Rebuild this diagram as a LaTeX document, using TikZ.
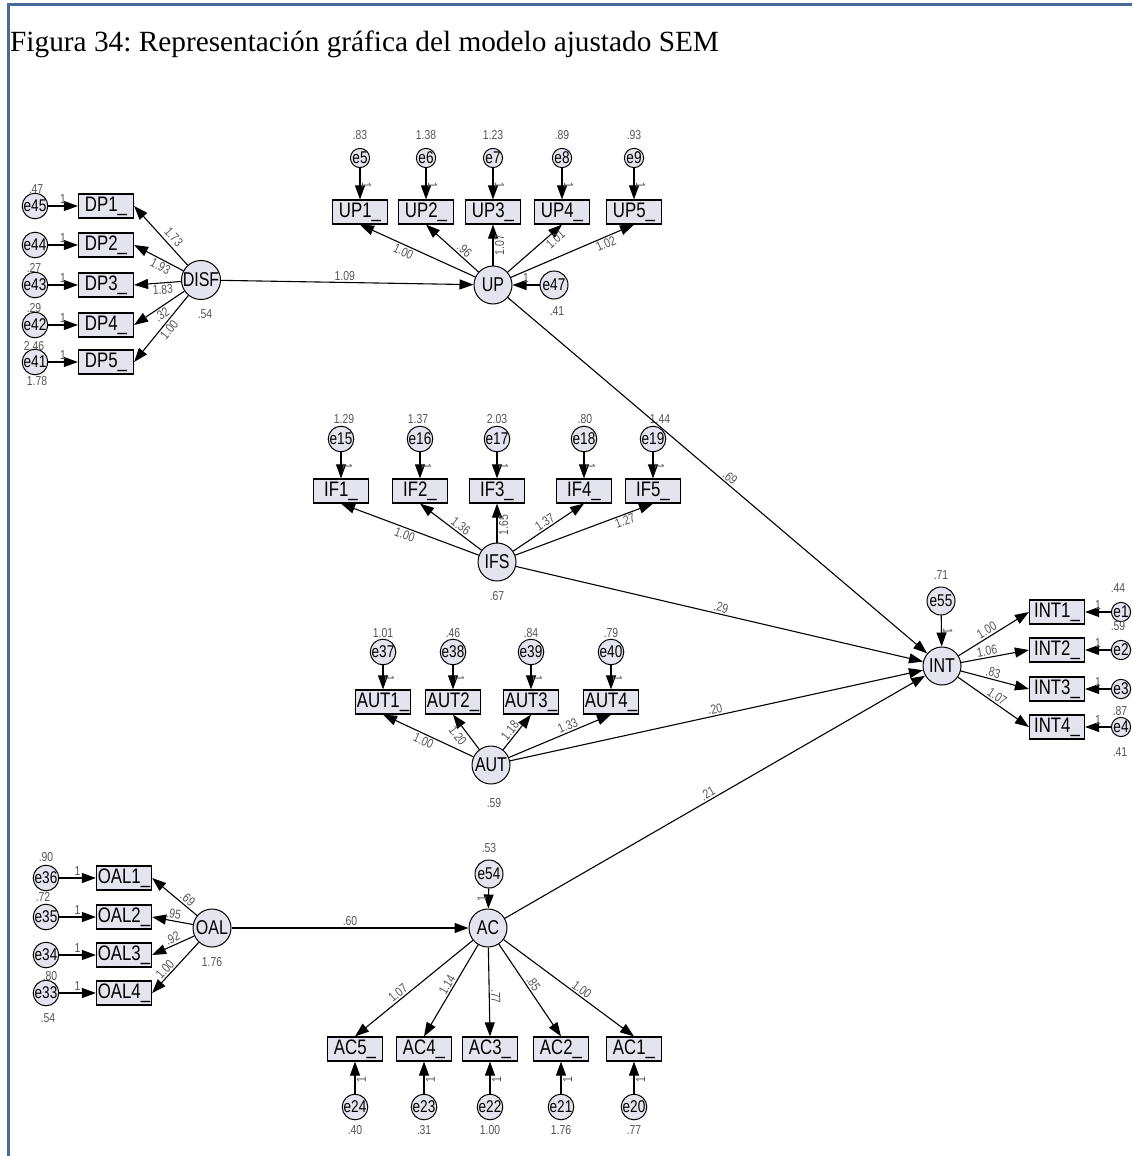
\documentclass[tikz,border=0pt]{standalone}
\usepackage{fontspec}
\setmainfont{Liberation Serif}
\newfontfamily\arialt[FakeStretch=0.8]{Liberation Sans}
\usetikzlibrary{arrows.meta,calc}
\definecolor{vfill}{HTML}{E4E4EE}
\definecolor{framec}{HTML}{4A6A9A}
\definecolor{numc}{HTML}{555555}
\newcommand\bxf{\arialt\fontsize{21}{22}\selectfont}
\newcommand\lxf{\arialt\fontsize{20}{21}\selectfont}
\newcommand\exf{\arialt\fontsize{17}{19}\selectfont}
\newcommand\nmf{\arialt\fontsize{13}{14}\selectfont}
\frenchspacing
\begin{document}
\begin{tikzpicture}[x=1pt,y=-1pt,
  obs/.style={draw=black, line width=1.2pt, fill=vfill, rectangle, minimum width=55pt, minimum height=24pt, inner sep=0pt, font=\bxf},
  lat/.style={draw=black, line width=1pt, fill=vfill, circle, minimum size=38pt, inner sep=0pt, font=\lxf},
  err/.style={draw=black, line width=1pt, fill=vfill, circle, minimum size=17pt, inner sep=0pt, font=\exf},
  errb/.style={err, minimum size=28pt},
  num/.style={font=\nmf, text=numc, inner sep=1.5pt},
  arr/.style={draw=black, line width=1.1pt, -{Triangle[length=14pt,width=10pt]}},
]
\useasboundingbox (0,0) rectangle (1132,1156);
\fill[white] (0,0) rectangle (1132,1156);
\draw[framec, line width=3pt] (8,1156) -- (8,5) -- (1132,5);
\node[anchor=base west, inner sep=0pt, font=\fontsize{29.3}{34}\selectfont] (title) at (10,52) {Figura 34: Representación gráfica del modelo ajustado SEM};

% ---------------- DISF ----------------
\node[lat] (DISF) at (201,280) {DISF};
\node[obs] (DP1) at (106,206) {DP1\_};
\node[obs] (DP2) at (106,245) {DP2\_};
\node[obs] (DP3) at (106,285) {DP3\_};
\node[obs] (DP4) at (106,325) {DP4\_};
\node[obs] (DP5) at (106,362) {DP5\_};
\node[err] (e45) at (35,206) {e45};
\node[err] (e44) at (35,245) {e44};
\node[err] (e43) at (35,285) {e43};
\node[err] (e42) at (35,325) {e42};
\node[err] (e41) at (35,362) {e41};
\draw[arr] (e45) -- node[num,above]{1} (DP1);
\draw[arr] (e44) -- node[num,above]{1} (DP2);
\draw[arr] (e43) -- node[num,above]{1} (DP3);
\draw[arr] (e42) -- node[num,above]{1} (DP4);
\draw[arr] (e41) -- node[num,above]{1} (DP5);
\draw[arr] (DISF) -- node[num,sloped,above=2pt,pos=.38]{1.73} (DP1.east);
\draw[arr] (DISF) -- node[num,sloped,below,pos=.4]{1.93} (DP2.east);
\draw[arr] (DISF) -- node[num,sloped,below,pos=.4]{1.83} (DP3.east);
\draw[arr] (DISF) -- node[num,sloped,below,pos=.52]{.32} (DP4.east);
\draw[arr] (DISF) -- node[num,sloped,below,pos=.45]{1.00} (DP5.east);
\node[num] (v45) at (36,189) {.47};
\node[num] (v43) at (34,268) {.27};
\node[num] (v42) at (34,308) {.29};
\node[num] (v41) at (34,346) {2.46};
\node[num] (v41b) at (37,381) {1.78};
\node[num] (vDISF) at (205,314) {.54};

% ---------------- UP ----------------
\node[lat] (UP) at (493,285) {UP};
\node[errb] (e47) at (554,285) {e47};
\node[num] (v47) at (557,311) {.41};
\draw[arr] (e47) -- node[num,above]{1} (UP);
\node[obs] (UP1) at (360,212) {UP1\_};
\node[obs] (UP2) at (426,212) {UP2\_};
\node[obs] (UP3) at (493,212) {UP3\_};
\node[obs] (UP4) at (562,212) {UP4\_};
\node[obs] (UP5) at (634,212) {UP5\_};
\node[err] (e5) at (360,158) {e5};
\node[err] (e6) at (426,158) {e6};
\node[err] (e7) at (493,158) {e7};
\node[err] (e8) at (562,158) {e8};
\node[err] (e9) at (634,158) {e9};
\draw[arr] (e5) -- node[num,sloped,above,pos=.55]{1} (UP1);
\draw[arr] (e6) -- node[num,sloped,above,pos=.55]{1} (UP2);
\draw[arr] (e7) -- node[num,sloped,above,pos=.55]{1} (UP3);
\draw[arr] (e8) -- node[num,sloped,above,pos=.55]{1} (UP4);
\draw[arr] (e9) -- node[num,sloped,above,pos=.55]{1} (UP5);
\node[num] (v5) at (360,135) {.83};
\node[num] (v6) at (426,135) {1.38};
\node[num] (v7) at (493,135) {1.23};
\node[num] (v8) at (562,135) {.89};
\node[num] (v9) at (634,135) {.93};
\draw[arr] (UP) -- node[num,sloped,below,pos=.6]{1.00} (UP1.south);
\draw[arr] (UP) -- node[num,sloped,above,pos=.35]{.96} (UP2.south);
\draw[arr] (UP) -- node[num,sloped,below,pos=.5]{1.07} (UP3.south);
\draw[arr] (UP) -- node[num,sloped,below,pos=.8]{1.01} (UP4.south);
\draw[arr] (UP) -- node[num,sloped,below,pos=.75]{1.02} (UP5.south);

% ---------------- IFS ----------------
\node[lat] (IFS) at (497,562) {IFS};
\node[num] (vIFS) at (497,596) {.67};
\node[obs] (IF1) at (341,491) {IF1\_};
\node[obs] (IF2) at (420,491) {IF2\_};
\node[obs] (IF3) at (497,491) {IF3\_};
\node[obs] (IF4) at (584,491) {IF4\_};
\node[obs] (IF5) at (653,491) {IF5\_};
\node[err] (e15) at (341,439) {e15};
\node[err] (e16) at (420,439) {e16};
\node[err] (e17) at (497,439) {e17};
\node[err] (e18) at (584,439) {e18};
\node[err] (e19) at (653,439) {e19};
\draw[arr] (e15) -- node[num,sloped,above,pos=.55]{1} (IF1);
\draw[arr] (e16) -- node[num,sloped,above,pos=.55]{1} (IF2);
\draw[arr] (e17) -- node[num,sloped,above,pos=.55]{1} (IF3);
\draw[arr] (e18) -- node[num,sloped,above,pos=.55]{1} (IF4);
\draw[arr] (e19) -- node[num,sloped,above,pos=.55]{1} (IF5);
\node[num] (v15) at (344,419) {1.29};
\node[num] (v16) at (418,419) {1.37};
\node[num] (v17) at (497,419) {2.03};
\node[num] (v18) at (585,419) {.80};
\node[num] (v19) at (660,419) {1.44};
\draw[arr] (IFS) -- node[num,sloped,below,pos=.52]{1.00} (IF1.south);
\draw[arr] (IFS) -- node[num,sloped,above,pos=.4]{1.36} (IF2.south);
\draw[arr] (IFS) -- node[num,sloped,below,pos=.45]{1.65} (IF3.south);
\draw[arr] (IFS) -- node[num,sloped,above,pos=.5]{1.37} (IF4.south);
\draw[arr] (IFS) -- node[num,sloped,below,pos=.78]{1.27} (IF5.south);

% ---------------- AUT ----------------
\node[lat] (AUT) at (491,765) {AUT};
\node[num] (vAUT) at (494,803) {.59};
\node[obs] (AUT1) at (383,702) {AUT1\_};
\node[obs] (AUT2) at (453,702) {AUT2\_};
\node[obs] (AUT3) at (531,702) {AUT3\_};
\node[obs] (AUT4) at (611,702) {AUT4\_};
\node[err] (e37) at (383,652) {e37};
\node[err] (e38) at (453,652) {e38};
\node[err] (e39) at (531,652) {e39};
\node[err] (e40) at (611,652) {e40};
\draw[arr] (e37) -- node[num,sloped,above,pos=.55]{1} (AUT1);
\draw[arr] (e38) -- node[num,sloped,above,pos=.55]{1} (AUT2);
\draw[arr] (e39) -- node[num,sloped,above,pos=.55]{1} (AUT3);
\draw[arr] (e40) -- node[num,sloped,above,pos=.55]{1} (AUT4);
\node[num] (v37) at (383,633) {1.01};
\node[num] (v38) at (453,633) {.46};
\node[num] (v39) at (531,633) {.84};
\node[num] (v40) at (611,633) {.79};
\draw[arr] (AUT) -- node[num,sloped,below,pos=.52]{1.00} (AUT1.south);
\draw[arr] (AUT) -- node[num,sloped,below=2pt,pos=.55]{1.20} (AUT2.south);
\draw[arr] (AUT) -- node[num,sloped,above,pos=.43]{1.18} (AUT3.south);
\draw[arr] (AUT) -- node[num,sloped,above,pos=.6]{1.33} (AUT4.south);

% ---------------- INT ----------------
\node[lat] (INT) at (942,666) {INT};
\node[errb] (e55) at (941,601) {e55};
\node[num] (v55) at (941,575) {.71};
\draw[arr] (e55) -- node[num,sloped,above,pos=.5]{1} (INT);
\node[obs] (INT1) at (1057,612) {INT1\_};
\node[obs] (INT2) at (1057,650) {INT2\_};
\node[obs] (INT3) at (1057,689) {INT3\_};
\node[obs] (INT4) at (1057,727) {INT4\_};
\node[err] (e1) at (1121,612) {e1};
\node[err] (e2) at (1121,650) {e2};
\node[err] (e3) at (1121,689) {e3};
\node[err] (e4) at (1121,727) {e4};
\draw[arr] (e1) -- node[num,above]{1} (INT1);
\draw[arr] (e2) -- node[num,above]{1} (INT2);
\draw[arr] (e3) -- node[num,above]{1} (INT3);
\draw[arr] (e4) -- node[num,above]{1} (INT4);
\node[num] (v1) at (1118,588) {.44};
\node[num] (v2) at (1118,626) {.59};
\node[num] (v4) at (1120,711) {.87};
\node[num] (v4b) at (1120,752) {.41};
\draw[arr] (INT) -- node[num,sloped,above,pos=.45]{1.00} (INT1.west);
\draw[arr] (INT) -- node[num,sloped,above,pos=.4]{1.06} (INT2.west);
\draw[arr] (INT) -- node[num,sloped,above,pos=.45]{.83} (INT3.west);
\draw[arr] (INT) -- node[num,sloped,above,pos=.5]{1.07} (INT4.west);

% ---------------- OAL ----------------
\node[lat] (OAL) at (212,928) {OAL};
\node[num] (vOAL) at (212,962) {1.76};
\node[obs] (OAL1) at (124,878) {OAL1\_};
\node[obs] (OAL2) at (124,917) {OAL2\_};
\node[obs] (OAL3) at (124,955) {OAL3\_};
\node[obs] (OAL4) at (124,993) {OAL4\_};
\node[err] (e36) at (46,878) {e36};
\node[err] (e35) at (46,917) {e35};
\node[err] (e34) at (46,955) {e34};
\node[err] (e33) at (46,993) {e33};
\draw[arr] (e36) -- node[num,above]{1} (OAL1);
\draw[arr] (e35) -- node[num,above]{1} (OAL2);
\draw[arr] (e34) -- node[num,above]{1} (OAL3);
\draw[arr] (e33) -- node[num,above]{1} (OAL4);
\node[num] (v36) at (46,857) {.90};
\node[num] (v35) at (43,897) {.72};
\node[num] (v33) at (50,976) {.80};
\node[num] (v33b) at (48,1018) {.54};
\draw[arr] (OAL) -- node[num,sloped,above,pos=.3]{.69} (OAL1.east);
\draw[arr] (OAL) -- node[num,sloped,above,pos=.5]{.95} (OAL2.east);
\draw[arr] (OAL) -- node[num,sloped,above,pos=.45]{.92} (OAL3.east);
\draw[arr] (OAL) -- node[num,sloped,above,pos=.62]{1.00} (OAL4.east);

% ---------------- AC ----------------
\node[lat] (AC) at (488,928) {AC};
\node[errb] (e54) at (489,874) {e54};
\node[num] (v54) at (489,848) {.53};
\draw[arr] (e54) -- node[num,sloped,above,pos=.5]{1} (AC);
\node[obs] (AC5) at (355,1049) {AC5\_};
\node[obs] (AC4) at (424,1049) {AC4\_};
\node[obs] (AC3) at (490,1049) {AC3\_};
\node[obs] (AC2) at (561,1049) {AC2\_};
\node[obs] (AC1) at (634,1049) {AC1\_};
\node[err] (e24) at (355,1107) {e24};
\node[err] (e23) at (424,1107) {e23};
\node[err] (e22) at (490,1107) {e22};
\node[err] (e21) at (561,1107) {e21};
\node[err] (e20) at (634,1107) {e20};
\draw[arr] (e24) -- node[num,sloped,below,pos=.45]{1} (AC5);
\draw[arr] (e23) -- node[num,sloped,below,pos=.45]{1} (AC4);
\draw[arr] (e22) -- node[num,sloped,below,pos=.45]{1} (AC3);
\draw[arr] (e21) -- node[num,sloped,below,pos=.45]{1} (AC2);
\draw[arr] (e20) -- node[num,sloped,below,pos=.45]{1} (AC1);
\node[num] (v24) at (355,1130) {.40};
\node[num] (v23) at (424,1130) {.31};
\node[num] (v22) at (490,1130) {1.00};
\node[num] (v21) at (561,1130) {1.76};
\node[num] (v20) at (634,1130) {.77};
\draw[arr] (AC) -- node[num,sloped,above,pos=.6]{1.07} (AC5.north);
\draw[arr] (AC) -- node[num,sloped,above,pos=.47]{1.14} (AC4.north);
\draw[arr] (AC) -- node[num,sloped,above,pos=.55]{.77} (AC3.north);
\draw[arr] (AC) -- node[num,sloped,above,pos=.47]{.85} (AC2.north);
\draw[arr] (AC) -- node[num,sloped,above,pos=.57]{1.00} (AC1.north);

% ---------------- structural paths ----------------
\draw[arr] (DISF) -- node[num,above,pos=.49]{1.09} (UP);
\draw[arr] (OAL) -- node[num,above,pos=.5]{.60} (AC);
\draw[arr] (UP) -- node[num,sloped,above,pos=.52]{.69} (INT);
\draw[arr] (IFS) -- node[num,sloped,above,pos=.5]{.29} (INT);
\draw[arr] (AUT) -- node[num,sloped,above,pos=.5]{.20} (INT);
\draw[arr] (AC) -- node[num,sloped,above,pos=.49]{.21} (INT);
\end{tikzpicture}
\end{document}
